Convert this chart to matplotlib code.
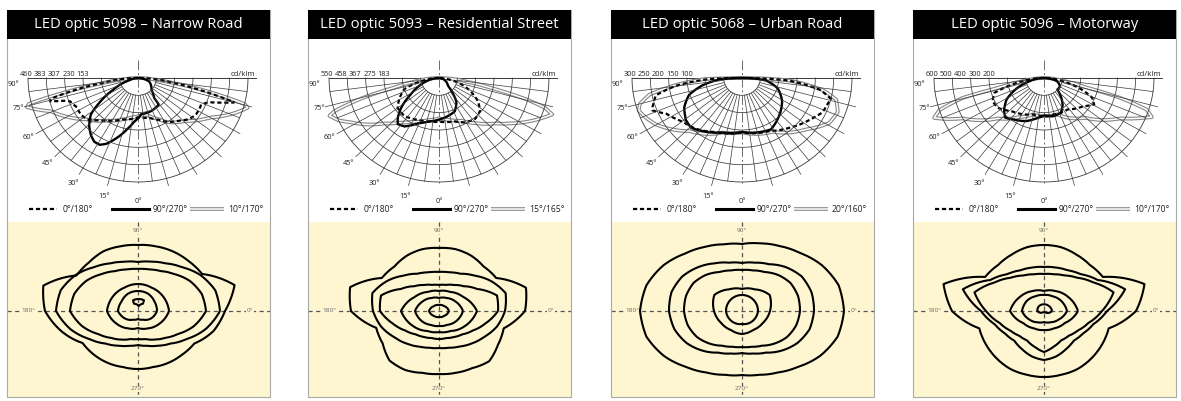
import numpy as np
import matplotlib
matplotlib.use("Agg")
import matplotlib.pyplot as plt
from matplotlib.patches import Rectangle, PathPatch
from matplotlib.path import Path

plt.rcParams['font.family'] = ['Open Sans', 'DejaVu Sans']
plt.rcParams['lines.scale_dashes'] = False

W, H = 1181, 401

# ---------------- data ----------------
titles = ["LED optic 5098 – Narrow Road", "LED optic 5093 – Residential Street",
          "LED optic 5068 – Urban Road", "LED optic 5096 – Motorway"]
ring_max = [460, 550, 300, 600]
ring_labels = [[460, 383, 307, 230, 153], [550, 458, 367, 275, 183],
               [300, 250, 200, 150, 100], [600, 500, 400, 300, 200]]
plane_labels = [["0°/180°", "90°/270°", "10°/170°"],
                ["0°/180°", "90°/270°", "15°/165°"],
                ["0°/180°", "90°/270°", "20°/160°"],
                ["0°/180°", "90°/270°", "10°/170°"]]
angle_labels = [90, 75, 60, 45, 30, 15, 0]

# luminous intensity curves: gamma (deg, negative = left half) and cd/klm
p1_dbl_g = [-90, -84, -81.5, -78.5, -76, -74.5, -71, -68, -60, -50, -35, -20, -10, 0, 12, 25, 32, 46.5, 60, 69, 74, 75.5, 78.5, 81.5, 84, 90]
p1_dbl_v = [0, 69, 149, 297, 469, 482, 434, 393, 343, 284, 230, 195, 178, 169, 165, 200, 230, 276, 349, 433, 477, 460, 295, 148, 69, 0]
p1_c0_g = [-90, -82, -78.5, -76, -74.5, -72, -70, -63, -56, -49, -42, -35, -20, 0, 15, 25, 33.7, 42.5, 50, 56.5, 62, 66, 70, 72.2, 75, 76.5, 78.5, 82, 90]
p1_c0_v = [0, 139, 273, 369, 384, 326, 302, 286, 289, 280, 252, 230, 195, 174, 182, 204, 234, 256, 282, 291, 291, 289, 312, 356, 417, 347, 260, 139, 0]
p1_c90_g = [-90, -75, -63.4, -56, -50.8, -44, -37.7, -32.9, -28.5, -24.3, -19.5, -11.2, -5, 0, 4.6, 21, 36.5, 37.5, 47, 71, 90]
p1_c90_v = [0, 35, 116, 194, 254, 294, 321, 336, 336, 319, 286, 230, 195, 178, 161, 156, 146, 111, 77, 50, 0]

p2_dbl_g = [-90, -82, -77.3, -74.4, -71.5, -70, -66, -62, -55, -48.7, -40, -31, -15, 0, 12, 26.4, 38, 49.4, 56, 62.8, 68, 71.2, 73.5, 75.3, 78.2, 82, 90]
p2_dbl_v = [0, 110, 229, 405, 550, 583, 550, 499, 429, 364, 308, 270, 231, 213, 226, 252, 303, 369, 429, 503, 561, 598, 550, 462, 286, 138, 0]
p2_c0_g = [-90, -80, -71.2, -61.2, -52.3, -40.6, -29.3, -17.7, 0, 18.9, 28.8, 39.5, 49.3, 57.3, 65.1, 73.4, 82, 90]
p2_c0_v = [0, 83, 183, 226, 261, 265, 250, 238, 231, 242, 268, 282, 270, 233, 179, 117, 44, 0]
p2_c90_g = [-90, -80, -69.3, -58.9, -50, -44.5, -40.3, -34, -23.8, -13.5, 0, 12.7, 24.1, 34.7, 40, 47, 70, 90]
p2_c90_v = [0, 39, 95, 162, 248, 294, 319, 309, 262, 237, 220, 206, 193, 153, 110, 62, 28, 0]

p3_dbl_g = [-90, -89, -88.4, -83.1, -79.2, -75, -71.6, -66, -60.2, -43.2, -18.5, 0, 28.3, 49.7, 61.4, 69.4, 76.4, 81, 86.8, 89, 90]
p3_dbl_v = [0, 40, 98, 190, 257, 288, 297, 285, 270, 210, 166, 157, 176, 229, 271, 279, 264, 223, 129, 50, 0]
p3_c0_g = [-90, -88, -83, -78, -71, -69, -63.6, -52.2, -40.6, -24.5, 0, 26, 42, 56.6, 65.9, 72.1, 76, 81, 86.8, 90]
p3_c0_v = [0, 90, 180, 240, 258, 261, 231, 205, 193, 171, 157, 170, 193, 220, 241, 245, 250, 215, 125, 0]
p3_c90_g = [-90, -87, -79, -71.5, -61.7, -51.6, -44.1, -35.1, -18.5, 0, 28.1, 43.5, 58.7, 72.9, 83.7, 88, 90]
p3_c90_v = [0, 53, 109, 152, 179, 195, 200, 187, 166, 156, 168, 148, 128, 102, 66, 30, 0]

p4_dbl_g = [-90, -82, -77.2, -75.5, -72, -69, -66, -62.3, -47.3, -31.4, -16.2, 0, 19, 44.5, 60.8, 66, 69, 72, 74.6, 76.7, 82, 90]
p4_dbl_v = [0, 90, 259, 458, 600, 642, 582, 501, 344, 264, 219, 220, 222, 322, 477, 570, 630, 588, 432, 232, 90, 0]
p4_c0_g = [-90, -84, -77.7, -72.4, -64.5, -55.7, -42.6, -16.2, 0, 14.3, 35.6, 53, 60.8, 66.5, 72, 77.6, 84, 90]
p4_c0_v = [0, 72, 180, 284, 311, 305, 260, 219, 222, 217, 223, 270, 313, 287, 217, 133, 60, 0]
p4_c90_g = [-90, -76.6, -66.9, -58.7, -48.7, -42.5, -34.8, -21.8, -10.2, 0, 13.7, 24.6, 33.5, 41.1, 47.4, 61.5, 75, 90]
p4_c90_v = [0, 82, 170, 239, 290, 311, 291, 268, 237, 216, 226, 221, 184, 139, 99, 100, 75, 0]

# isolux contours: direction (deg, 0 = right, 90 = up) and distance (diagram units)
ANG15 = list(range(0, 360, 15))
ANG30 = list(range(0, 360, 30))
ANG45 = list(range(0, 360, 45))

iso1_r = [
    [87, 100, 74, 71, 69, 67, 66, 67, 69, 69, 71, 98, 93, 79, 64, 62, 60, 58, 58, 58, 60, 62, 65, 78],
    [82, 80, 72, 62, 55, 51, 49, 51, 55, 62, 72, 80, 82, 70, 56, 46, 40, 36, 34, 36, 40, 46, 56, 70],
    [68, 66, 60, 52, 46, 43, 42, 43, 46, 52, 60, 66, 68, 58, 46, 38, 33, 29, 28, 29, 33, 38, 46, 58],
    [31, 29, 27, 27, 27, 29, 31, 25, 20, 17, 20, 25],
    [19, 19, 20, 20, 20, 19, 20, 15, 10, 8, 10, 15],
    [12, 12.3, 8.8, 5, 8.3, 11.8],
]
iso1_a = [ANG15, ANG15, ANG15, ANG30, ANG30, [90, 61, 56, 82, 119, 115]]

iso2_r = [
    [86, 90, 66, 63, 64, 64, 63, 64, 64, 63, 66, 92, 88, 65, 65, 70, 68, 64, 63, 64, 66, 71, 68, 67],
    [66, 69, 60, 50, 43, 40, 39, 40, 43, 50, 60, 69, 66, 60, 52, 46, 41, 38, 37, 38, 41, 46, 52, 60],
    [59, 60, 44, 35, 30, 27, 26, 27, 30, 35, 44, 60, 59, 48, 39, 33, 30, 28, 28, 28, 30, 33, 39, 48],
    [38, 28, 22, 20, 22, 28, 38, 30, 23, 21, 23, 30],
    [24, 19, 15, 13, 15, 19, 24, 20, 16, 15, 16, 20],
    [10, 7, 6, 7, 10, 7, 6, 7],
]
iso2_a = [ANG15, ANG15, ANG15, ANG30, ANG30, ANG45]

iso3_r = [
    [102, 100, 92, 82, 75, 70, 67, 69, 74, 81, 91, 99, 102, 99, 90, 79, 71, 66, 64, 66, 71, 79, 90, 99],
    [72, 72, 69, 62, 54, 50, 48, 50, 55, 62, 69, 73, 73, 70, 64, 56, 48, 44, 42, 44, 48, 56, 64, 70],
    [58, 58, 56, 51, 45, 42, 41, 42, 45, 51, 56, 58, 58, 56, 52, 46, 40, 37, 36, 37, 40, 46, 52, 56],
    [28, 32, 25, 22, 25, 32, 28, 24, 22, 23, 22, 24],
    [16, 16, 16, 16, 16, 16, 16, 15, 14, 13, 14, 15],
]
iso3_a = [ANG15, ANG15, ANG15, ANG30, ANG30]

iso4_r = [
    [92, 104, 68, 65, 65, 66, 66, 66, 65, 65, 68, 104, 92, 67, 67, 67, 67, 66, 66, 66, 67, 67, 67, 67],
    [63, 84, 62, 52, 47, 45, 44, 45, 47, 52, 62, 84, 63, 51, 45, 42, 44, 47, 49, 47, 44, 42, 45, 51],
    [58, 72, 57, 47, 41, 38, 37, 38, 41, 47, 57, 72, 58, 46, 39, 35, 34, 37, 41, 37, 34, 35, 39, 46],
    [34, 28, 23, 20, 23, 28, 34, 24, 20, 19, 20, 24],
    [23, 20, 17, 16, 17, 20, 22, 17, 13, 11, 13, 17],
    [8, 7, 6.7, 7, 6.7, 2, 1, 2],
]
iso4_a = [ANG15, ANG15, ANG15, ANG30, ANG30, ANG45]

curves = [
    ((p1_dbl_g, p1_dbl_v), (p1_c0_g, p1_c0_v), (p1_c90_g, p1_c90_v)),
    ((p2_dbl_g, p2_dbl_v), (p2_c0_g, p2_c0_v), (p2_c90_g, p2_c90_v)),
    ((p3_dbl_g, p3_dbl_v), (p3_c0_g, p3_c0_v), (p3_c90_g, p3_c90_v)),
    ((p4_dbl_g, p4_dbl_v), (p4_c0_g, p4_c0_v), (p4_c90_g, p4_c90_v)),
]
isolux = [(iso1_a, iso1_r), (iso2_a, iso2_r), (iso3_a, iso3_r), (iso4_a, iso4_r)]

# ---------------- layout / style ----------------
PANEL_X = [7, 308, 611, 913]
PW = 263
YELLOW = '#fdf6d0'
GRID = '#3a3a3a'
DBL = '#858585'
LABEL_R = {90: 1.13, 75: 1.13, 60: 1.15, 45: 1.16, 30: 1.17, 15: 1.18, 0: 1.19}

fig = plt.figure(figsize=(W / 100, H / 100), dpi=100)
bg = fig.add_axes([0, 0, 1, 1])
bg.set_xlim(0, W)
bg.set_ylim(H, 0)
bg.axis('off')


def fax(x0, y0, w, h):
    """pixel box (top-left origin) -> figure fraction rect"""
    return [x0 / W, 1 - (y0 + h) / H, w / W, h / H]


def polar_curve(ax, theta_deg, r, closed=False, **kw):
    """draw a (theta, r) series as a path that the polar transform bends smoothly"""
    th = list(np.deg2rad(theta_deg))
    rr = list(r)
    if closed:
        wraps = (theta_deg[-1] - theta_deg[0]) > 180
        th.append(th[0] + 2 * np.pi if wraps else th[0])
        rr.append(rr[0])
    p = Path(np.column_stack([th, rr]), _interpolation_steps=24)
    patch = PathPatch(p, fill=False, **kw)
    ax.add_patch(patch)
    return patch


def double_line_bg(ax, x, y):
    ax.plot(x, y, color=DBL, lw=2.6, solid_capstyle='butt')
    ax.plot(x, y, color='white', lw=1.1, solid_capstyle='butt')


for k, ox in enumerate(PANEL_X):
    cx = ox + 131
    cy = 78
    vmax = ring_max[k]
    step = vmax / 6.0

    # frame, title bar, yellow field
    bg.add_patch(Rectangle((ox, 222), PW, 175, fc=YELLOW, ec='none', zorder=0))
    bg.add_patch(Rectangle((ox, 10), PW, 387, fill=False, ec='#a9a9a9', lw=0.8, zorder=3))
    bg.add_patch(Rectangle((ox, 10), PW, 29, fc='black', ec='none', zorder=4))
    bg.text(ox + PW / 2, 25, titles[k], color='white', fontsize=10.6,
            ha='center', va='center', zorder=5)

    # upper polar chrome
    bg.plot([cx - 110, cx + 118], [cy, cy], color=GRID, lw=0.7, zorder=1)
    bg.plot([cx, cx], [60, 183], color='#555555', lw=0.6,
            ls=(0, (7, 2, 1.5, 2)), zorder=1)
    for i, lab in enumerate(ring_labels[k]):
        bg.text(ox + 19 + 14.2 * i, 76, str(lab), fontsize=5.3, color='#222222',
                ha='center', va='baseline')
    bg.text(cx + 117, 76, 'cd/klm', fontsize=5.6, color='#222222',
            ha='right', va='baseline')

    # legend
    ly = 209
    bg.plot([ox + 22, ox + 50], [ly, ly], color='black', lw=1.6, dashes=(3, 2))
    bg.text(ox + 56, ly, plane_labels[k][0], fontsize=6.2, va='center', color='#222222')
    bg.plot([ox + 105, ox + 142], [ly, ly], color='black', lw=2.2)
    bg.text(ox + 146, ly, plane_labels[k][1], fontsize=6.2, va='center', color='#222222')
    double_line_bg(bg, [ox + 183, ox + 217], [ly, ly])
    bg.text(ox + 221, ly, plane_labels[k][2], fontsize=6.2, va='center', color='#222222')

    # lower crosshair
    cy2 = 311
    bg.plot([ox, ox + PW], [cy2, cy2], color='#555555', lw=0.9, dashes=(3, 2.5), zorder=1)
    bg.plot([cx, cx], [222, 397], color='#555555', lw=0.9, dashes=(3, 2.5), zorder=1)
    lab_kw = dict(fontsize=4.6, color='#666666', ha='center', va='center', zorder=2,
                  bbox=dict(fc=YELLOW, ec='none', pad=0.6))
    bg.text(ox + 21, cy2, '180°', **lab_kw)
    bg.text(ox + PW - 20, cy2, '0°', **lab_kw)
    bg.text(cx, 231, '90°', **lab_kw)
    bg.text(cx, 389, '270°', **lab_kw)

    # ---- upper polar diagram (full polar axes, only the lower half is used) ----
    RX, RY, F = 110, 104, 1.25
    ax = fig.add_axes(fax(cx - RX * F, cy - RY * F, 2 * RX * F, 2 * RY * F),
                      projection='polar')
    ax.set_theta_zero_location('S')
    ax.set_theta_direction(1)
    ax.set_ylim(0, vmax * F)
    ax.set_aspect('auto')
    ax.axis('off')
    ax.patch.set_alpha(0)
    arc = np.deg2rad(np.linspace(-90, 90, 181))
    for i in range(1, 7):
        ax.plot(arc, np.full(arc.size, step * i), color=GRID,
                lw=0.6 if i == 6 else 0.55)
    for a in np.arange(-82.5, 83, 7.5):
        if abs(a) < 1:
            continue
        rend = vmax * 1.07 if abs(a) % 15 == 0 else vmax
        ax.plot(np.deg2rad([a, a]), [step, rend], color=GRID, lw=0.5)
    for a in angle_labels:
        th = -a if a != 90 else -87
        ax.text(np.deg2rad(th), vmax * LABEL_R[a], f"{a}°", fontsize=5.3, color='#222222',
                ha='center', va='center')

    (gd, vd), (g0, v0), (g9, v9) = curves[k]
    polar_curve(ax, gd, vd, ec=DBL, lw=2.7, capstyle='butt', joinstyle='round')
    polar_curve(ax, gd, vd, ec='white', lw=1.1, capstyle='butt', joinstyle='round')
    polar_curve(ax, g0, v0, ec='black', lw=1.6, ls=(0, (3, 2)))
    polar_curve(ax, g9, v9, ec='black', lw=1.7, joinstyle='round')

    # ---- lower isolux diagram ----
    R2 = 112
    ax2 = fig.add_axes(fax(cx - R2, cy2 - R2, 2 * R2, 2 * R2), projection='polar')
    ax2.set_ylim(0, R2)
    ax2.axis('off')
    ax2.patch.set_alpha(0)
    angs, rads = isolux[k]
    for a, r in zip(angs, rads):
        polar_curve(ax2, a, r, closed=True, ec='black', lw=1.5, joinstyle='round')

fig.savefig('out.png', dpi=100)
